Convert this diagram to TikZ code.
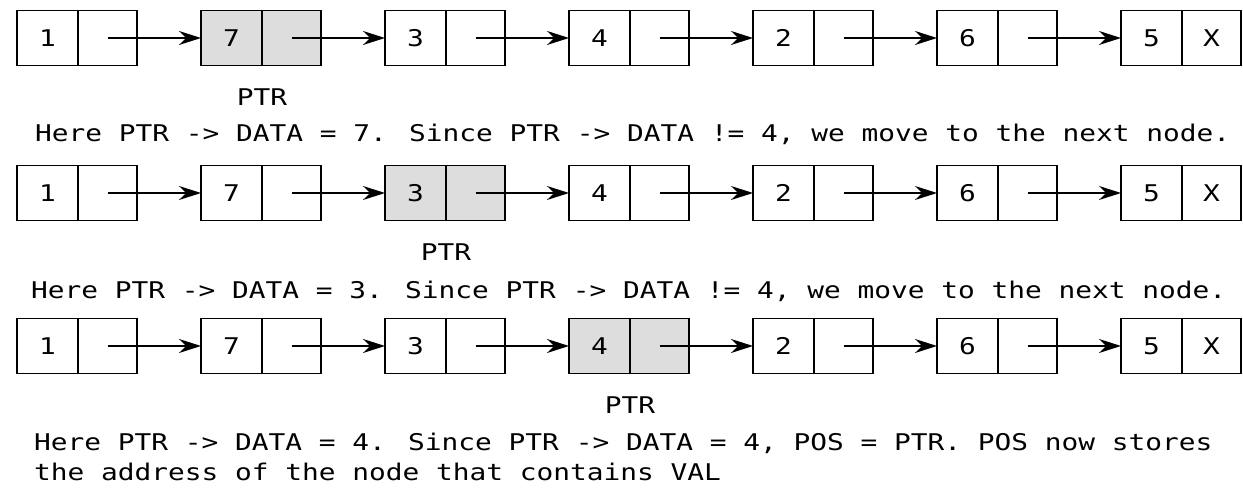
\documentclass[tikz,border=0pt]{standalone}
\usepackage{fontspec}
\usetikzlibrary{positioning,arrows.meta}
\newfontfamily\codefont[FakeStretch=1.21]{DejaVu Sans Mono}
\definecolor{ptrgray}{RGB}{221,221,221}

\begin{document}
\begin{tikzpicture}[x=0.5pt,y=-0.5pt,
        font=\codefont\fontsize{11.5}{13}\selectfont,
        >={Stealth[length=11pt,width=7pt]},
        datacell/.style={draw, line width=0.7pt, minimum width=30.5pt, minimum height=27.5pt, inner sep=0pt, outer sep=0pt},
        ptrcell/.style={datacell, minimum width=29.5pt}]
        \useasboundingbox (0,0) rectangle (1243,496);
        \foreach \r/\y/\h in {1/38/2, 2/193/3, 3/346/4} {
            \foreach \v [count=\i] in {1,7,3,4,2,6,5} {
                \ifnum\i=\h \def\fc{ptrgray}\else \def\fc{white}\fi
                \ifnum\i=7 \def\nx{X}\else \def\nx{}\fi
                \node[datacell, fill=\fc] (d\r\i) at ({47.5+184*(\i-1)},\y) {\v};
                \node[ptrcell, fill=\fc, right=0pt of d\r\i] (p\r\i) {\nx};
            }
            \foreach \i in {1,...,6} {
                \pgfmathtruncatemacro\j{\i+1}
                \draw[->, line width=0.6pt] (p\r\i.center) -- (d\r\j.west);
            }
            \node (ptr\r) at ([yshift=-16pt]d\r\h.south east) {PTR};
        }
        \node[anchor=base west] (line1) at (28,142) {Here PTR -> DATA = 7. Since PTR -> DATA != 4, we move to the next node.};
        \node[anchor=base west] (line2) at (24,299) {Here PTR -> DATA = 3. Since PTR -> DATA != 4, we move to the next node.};
        \node[anchor=base west] (line3) at (27,451) {Here PTR -> DATA = 4. Since PTR -> DATA = 4, POS = PTR. POS now stores};
        \node[anchor=base west] (line4) at (27,481) {the address of the node that contains VAL};
\end{tikzpicture}
\end{document}
